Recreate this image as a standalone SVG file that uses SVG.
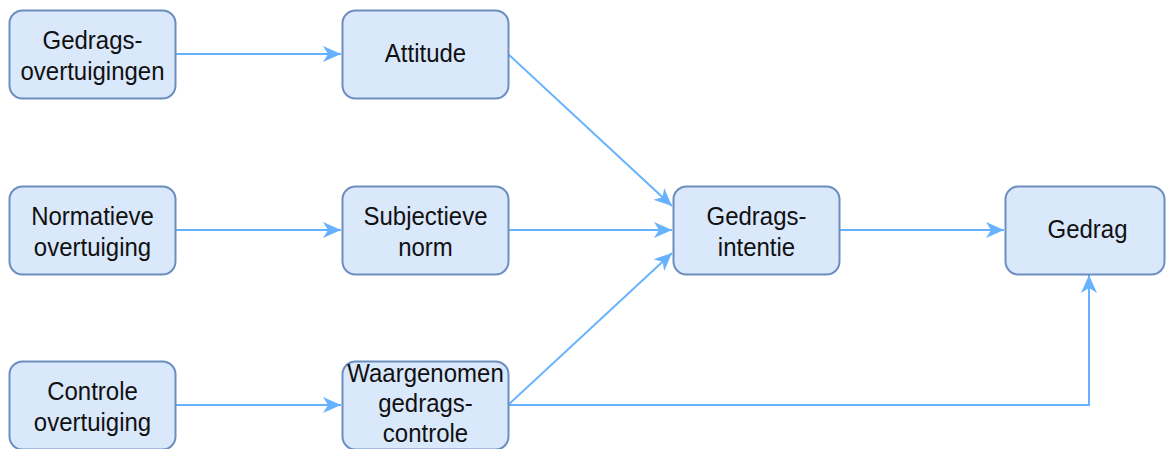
<svg xmlns="http://www.w3.org/2000/svg" width="1166" height="449" viewBox="0 0 1166 449">
<defs>
<style>
.box{fill:#dae8fc;stroke:#6c8ebf;stroke-width:2}
.lbl{font-family:"Liberation Sans",Arial,sans-serif;font-size:24px;fill:#111;text-anchor:middle}
.edge{fill:none;stroke:#66b2ff;stroke-width:2}
</style>
<marker id="arr" markerUnits="userSpaceOnUse" markerWidth="20" markerHeight="16" viewBox="0 0 18 16" refX="18" refY="8" orient="auto">
<path d="M0,0 L18,8 L0,16 L5,8 Z" fill="#66b2ff"/>
</marker>
</defs>
<rect width="1166" height="449" fill="#ffffff"/>
<g id="connectors">
<path class="edge" d="M176,54 L341,54" marker-end="url(#arr)"/>
<path class="edge" d="M176,230 L341,230" marker-end="url(#arr)"/>
<path class="edge" d="M176,405 L341,405" marker-end="url(#arr)"/>
<path class="edge" d="M508,54 L672,206" marker-end="url(#arr)"/>
<path class="edge" d="M508,230 L672,230" marker-end="url(#arr)"/>
<path class="edge" d="M508,405 L672,253" marker-end="url(#arr)"/>
<path class="edge" d="M839,230 L1004,230" marker-end="url(#arr)"/>
<path class="edge" d="M508,405 L1089,405 L1089,275" marker-end="url(#arr)"/>
</g>
<g id="gedragsovertuigingen">
<rect class="box" x="9.5" y="10.5" width="166" height="88" rx="13"/>
<text class="lbl" x="92.5" y="49" transform="matrix(1,0,0,1.1,0,-4.9)">Gedrags-</text>
<text class="lbl" x="92.5" y="80" transform="matrix(1,0,0,1.1,0,-8)">overtuigingen</text>
</g>
<g id="normatieve">
<rect class="box" x="9.5" y="186.5" width="166" height="88" rx="13"/>
<text class="lbl" x="92.5" y="225" transform="matrix(1,0,0,1.1,0,-22.5)">Normatieve</text>
<text class="lbl" x="92.5" y="256" transform="matrix(1,0,0,1.1,0,-25.6)">overtuiging</text>
</g>
<g id="controle">
<rect class="box" x="9.5" y="361.5" width="166" height="88" rx="13"/>
<text class="lbl" x="92.5" y="400" transform="matrix(1,0,0,1.1,0,-40)">Controle</text>
<text class="lbl" x="92.5" y="431" transform="matrix(1,0,0,1.1,0,-43.1)">overtuiging</text>
</g>
<g id="attitude">
<rect class="box" x="342.5" y="10.5" width="166" height="88" rx="13"/>
<text class="lbl" x="425.5" y="62" transform="matrix(1,0,0,1.1,0,-6.2)">Attitude</text>
</g>
<g id="subjectieve-norm">
<rect class="box" x="342.5" y="186.5" width="166" height="88" rx="13"/>
<text class="lbl" x="425.5" y="225" transform="matrix(1,0,0,1.1,0,-22.5)">Subjectieve</text>
<text class="lbl" x="425.5" y="256" transform="matrix(1,0,0,1.1,0,-25.6)">norm</text>
</g>
<g id="waargenomen">
<rect class="box" x="342.5" y="361.5" width="166" height="88" rx="13"/>
<text class="lbl" x="425.5" y="382" transform="matrix(1,0,0,1.1,0,-38.2)">Waargenomen</text>
<text class="lbl" x="425.5" y="412" transform="matrix(1,0,0,1.1,0,-41.2)">gedrags-</text>
<text class="lbl" x="425.5" y="442" transform="matrix(1,0,0,1.1,0,-44.2)">controle</text>
</g>
<g id="gedragsintentie">
<rect class="box" x="673.5" y="186.5" width="166" height="88" rx="13"/>
<text class="lbl" x="756.5" y="225" transform="matrix(1,0,0,1.1,0,-22.5)">Gedrags-</text>
<text class="lbl" x="756.5" y="256" transform="matrix(1,0,0,1.1,0,-25.6)">intentie</text>
</g>
<g id="gedrag">
<rect class="box" x="1005.5" y="186.5" width="159" height="88" rx="13"/>
<text class="lbl" x="1087.5" y="238" transform="matrix(1,0,0,1.1,0,-23.8)">Gedrag</text>
</g>
</svg>
